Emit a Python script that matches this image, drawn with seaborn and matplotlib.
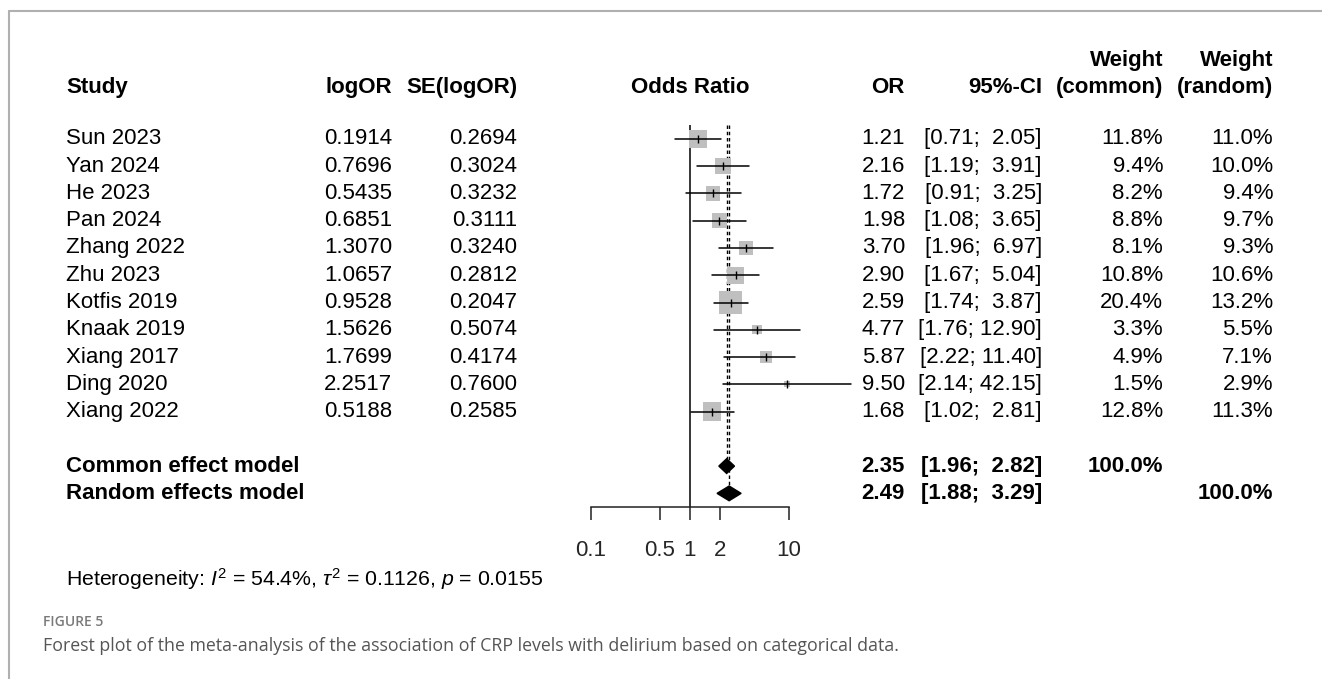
import numpy as np
import matplotlib
matplotlib.use("Agg")
import matplotlib.pyplot as plt
import matplotlib.transforms as mtransforms
from matplotlib.lines import Line2D
from matplotlib.ticker import NullLocator
import seaborn as sns

# study level data
studies = ["Sun 2023", "Yan 2024", "He 2023", "Pan 2024", "Zhang 2022", "Zhu 2023",
           "Kotfis 2019", "Knaak 2019", "Xiang 2017", "Ding 2020", "Xiang 2022"]
log_or = [0.1914, 0.7696, 0.5435, 0.6851, 1.3070, 1.0657, 0.9528, 1.5626, 1.7699, 2.2517, 0.5188]
se_log_or = [0.2694, 0.3024, 0.3232, 0.3111, 0.3240, 0.2812, 0.2047, 0.5074, 0.4174, 0.7600, 0.2585]
or_vals = [1.21, 2.16, 1.72, 1.98, 3.70, 2.90, 2.59, 4.77, 5.87, 9.50, 1.68]
ci_low = [0.71, 1.19, 0.91, 1.08, 1.96, 1.67, 1.74, 1.76, 2.22, 2.14, 1.02]
ci_high = [2.05, 3.91, 3.25, 3.65, 6.97, 5.04, 3.87, 12.90, 11.40, 42.15, 2.81]
w_common = [11.8, 9.4, 8.2, 8.8, 8.1, 10.8, 20.4, 3.3, 4.9, 1.5, 12.8]
w_random = [11.0, 10.0, 9.4, 9.7, 9.3, 10.6, 13.2, 5.5, 7.1, 2.9, 11.3]

# pooled estimates
model_names = ["Common effect model", "Random effects model"]
model_or = [2.35, 2.49]
model_low = [1.96, 1.88]
model_high = [2.82, 3.29]

x_ticks = [0.1, 0.5, 1, 2, 10]
x_tick_labels = ["0.1", "0.5", "1", "2", "10"]

sns.set_style("white")
plt.rcParams["font.family"] = ["Liberation Sans", "DejaVu Sans"]
plt.rcParams["mathtext.fontset"] = "custom"
plt.rcParams["mathtext.rm"] = "Liberation Sans"
plt.rcParams["mathtext.it"] = "Liberation Sans:italic"

W, H = 1322, 679
fig = plt.figure(figsize=(W / 100, H / 100), dpi=100)

# forest panel
ax = fig.add_axes([590.7 / W, (H - 507) / H, (789 - 590.7) / W, (507 - 125.3) / H])
ax.set_xscale("log")

rows = np.arange(len(studies))
df = {"or": or_vals, "row": rows, "w": w_common}
for lo, hi, r in zip(ci_low, ci_high, rows):
    ax.plot([lo, hi], [r, r], color="black", lw=1.1, clip_on=False, zorder=3)
sns.scatterplot(data=df, x="or", y="row", size="w", sizes=(13.45 * min(w_common), 13.45 * max(w_common)),
                marker="s", color="#bfbfbf", linewidth=0, legend=False, ax=ax, zorder=2, clip_on=False)
ax.plot(or_vals, rows, ls="none", marker="|", ms=6, mew=1.0, color="black", zorder=4, clip_on=False)

model_rows = [len(studies) + 1, len(studies) + 2]
h = 0.27
for est, lo, hi, r in zip(model_or, model_low, model_high, model_rows):
    ax.fill([lo, est, hi, est], [r, r - h, r, r + h], color="black", zorder=4, clip_on=False)

ax.axvline(1, color="black", lw=1.1, zorder=1)
dash = (0, (2.5, 2))
ax.vlines(model_or[0], -0.5, model_rows[0] - h, color="black", lw=1.0, linestyles=[dash], zorder=1)
ax.vlines(model_or[1], -0.5, model_rows[1] - h, color="black", lw=1.0, linestyles=[dash], zorder=1)

ax.set_xlim(0.1, 10)
ax.set_ylim(13.5, -0.5)
ax.set_xticks(x_ticks)
ax.set_xticklabels(x_tick_labels)
ax.xaxis.set_minor_locator(NullLocator())
ax.set_yticks([])
ax.set_xlabel("")
ax.set_ylabel("")
for s in ["top", "right", "left"]:
    ax.spines[s].set_visible(False)
ax.spines["bottom"].set_linewidth(1.1)
ax.spines["bottom"].set_color("#222222")
ax.tick_params(axis="x", direction="out", length=9.5, width=1.1, color="#222222",
               labelsize=16, pad=14, bottom=True)
ax.patch.set_alpha(0)

# text columns
tr = mtransforms.blended_transform_factory(fig.transFigure, ax.transData)
fs = 16


def col(px, r, s, ha, bold=False, size=fs):
    ax.text(px / W, r, s, transform=tr, ha=ha, va="center", fontsize=size,
            fontweight="bold" if bold else "normal", color="black", clip_on=False)


hdr1, hdr2 = -2.89, -1.87
col(66, hdr2, "Study", "left", True)
col(392, hdr2, "logOR", "right", True)
col(517, hdr2, "SE(logOR)", "right", True)
col(690, hdr2, "Odds Ratio", "center", True)
col(905, hdr2, "OR", "right", True)
col(1042, hdr2, "95%-CI", "right", True)
col(1163, hdr2, "(common)", "right", True)
col(1273, hdr2, "(random)", "right", True)
col(1163, hdr1, "Weight", "right", True)
col(1273, hdr1, "Weight", "right", True)

for i, r in enumerate(rows):
    col(66, r, studies[i], "left")
    col(392, r, f"{log_or[i]:.4f}", "right")
    col(517, r, f"{se_log_or[i]:.4f}", "right")
    col(905, r, f"{or_vals[i]:.2f}", "right")
    col(1042, r, f"[{ci_low[i]:.2f}; {ci_high[i]:5.2f}]", "right")
    col(1163, r, f"{w_common[i]:.1f}%", "right")
    col(1273, r, f"{w_random[i]:.1f}%", "right")

for k, r in enumerate(model_rows):
    col(66, r, model_names[k], "left", True)
    col(905, r, f"{model_or[k]:.2f}", "right", True)
    col(1042, r, f"[{model_low[k]:.2f}; {model_high[k]:5.2f}]", "right", True)
col(1163, model_rows[0], "100.0%", "right", True)
col(1273, model_rows[1], "100.0%", "right", True)

col(66, 16.15, r"Heterogeneity: $I^2$ = 54.4%, $\tau^2$ = 0.1126, $p$ = 0.0155", "left", size=15.3)

# figure caption and frame
fig.text(43 / W, 1 - 622 / H, "FIGURE 5", fontsize=10, color="#7a7a7a", fontweight="semibold",
         family=["Open Sans", "DejaVu Sans"], va="center")
fig.text(43 / W, 1 - 646 / H,
         "Forest plot of the meta-analysis of the association of CRP levels with delirium based on categorical data.",
         fontsize=12.8, color="#555555", family=["Open Sans", "DejaVu Sans"], va="center")
fig.add_artist(Line2D([9 / W, 1], [1 - 10.5 / H] * 2, color="#b0b0b0", lw=1.5))
fig.add_artist(Line2D([9 / W] * 2, [0, 1 - 10.5 / H], color="#b0b0b0", lw=1.5))

fig.savefig("out.png", dpi=100)
